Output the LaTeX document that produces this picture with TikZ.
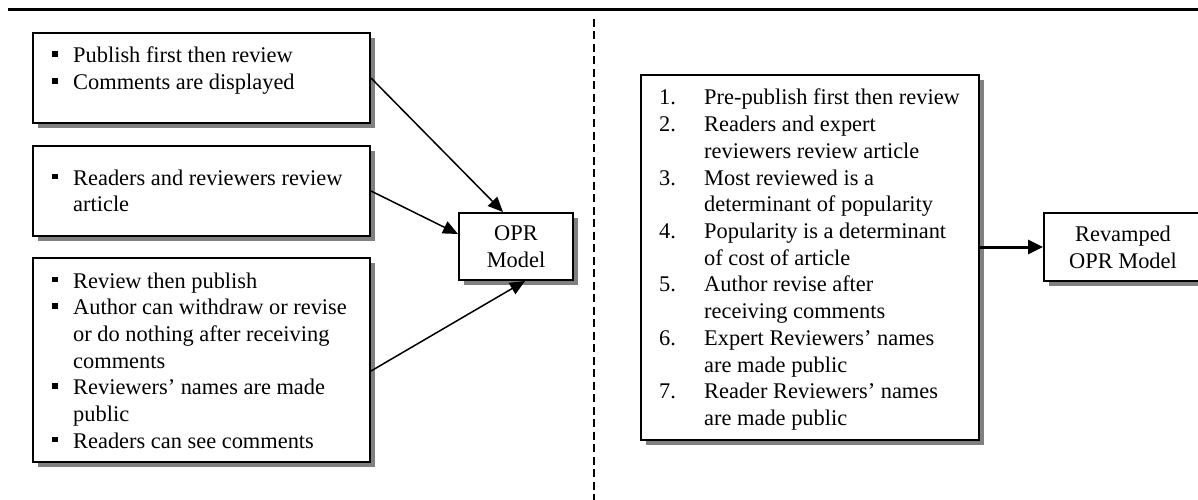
\documentclass[tikz,border=0pt]{standalone}
\usepackage{fontspec}
\setmainfont{Liberation Serif}
\usetikzlibrary{arrows.meta,shadows}
% list helpers: square bullet items and numbered items with hanging indent
\newcommand\sqbullet{\makebox[21pt][l]{\raisebox{6pt}{\rule{5.5pt}{5.5pt}}}}
\newcommand\bitem{\par\hangindent=21pt\hangafter=1\noindent\sqbullet}
\newcommand\nitem[1]{\par\hangindent=45pt\hangafter=1\noindent\makebox[45pt][l]{#1.}}
\tikzset{
  box/.style={draw, line width=2pt, fill=white, inner sep=0pt,
    drop shadow={shadow xshift=5pt, shadow yshift=-5pt, fill=gray, opacity=1}},
  listtext/.style={anchor=base west, inner sep=0pt},
  flow/.style={-{Triangle[length=15pt,width=13pt]}, line width=1.5pt},
  bigflow/.style={-{Triangle[length=15pt,width=14pt]}, line width=3pt},
}
\begin{document}
\begin{tikzpicture}[x=1pt, y=-1pt, font=\fontsize{22.4}{26.7}\selectfont]
\useasboundingbox (0,0) rectangle (1198,500);

% header rule and separator
\draw[line width=3.5pt] (8,9.5) -- (1198,9.5);
\draw[line width=2pt, dash pattern=on 8pt off 4.5pt] (594,19) -- (594,500);

% left column: three feature boxes
\node[box, minimum width=337pt, minimum height=90pt, anchor=north west] (b1) at (32,32) {};
\node[box, minimum width=337pt, minimum height=90pt, anchor=north west] (b2) at (32,145) {};
\node[box, minimum width=337pt, minimum height=204pt, anchor=north west] (b3) at (32,257) {};

\node[listtext] (t1) at (52,63) {\parbox[t]{320pt}{%
  \bitem Publish first then review
  \bitem Comments are displayed}};
\node[listtext] (t2) at (52,185) {\parbox[t]{320pt}{%
  \bitem Readers and reviewers review\newline article}};
\node[listtext] (t3) at (52,288) {\parbox[t]{320pt}{%
  \bitem Review then publish
  \bitem Author can withdraw or revise\newline or do nothing after receiving\newline comments
  \bitem Reviewers’ names are made\newline public
  \bitem Readers can see comments}};

% model
\node[box, minimum width=114pt, minimum height=67pt, align=center] (opr) at (516,246.5) {OPR\\Model};

\draw[flow] (b1.east) -- ([xshift=-13pt]opr.north);
\draw[flow] (b2.east) -- ([yshift=12.5pt]opr.west);
\draw[flow] ([yshift=-11pt]b3.east) -- ([xshift=9pt]opr.south);

% right column: revamped model
\node[box, minimum width=338pt, minimum height=365pt, anchor=north west] (rb) at (640,74) {};
\node[listtext] (t4) at (659,105) {\parbox[t]{320pt}{%
  \nitem{1}Pre-publish first then review
  \nitem{2}Readers and expert\newline reviewers review article
  \nitem{3}Most reviewed is a\newline determinant of popularity
  \nitem{4}Popularity is a determinant\newline of cost of article
  \nitem{5}Author revise after\newline receiving comments
  \nitem{6}Expert Reviewers’ names\newline are made public
  \nitem{7}Reader Reviewers’ names\newline are made public}};

\node[box, minimum width=158pt, minimum height=68pt, anchor=north west, align=center] (rev) at (1043,212) {Revamped\\OPR Model};

\draw[bigflow] (rb.east |- rev.west) -- (rev.west);
\end{tikzpicture}
\end{document}
